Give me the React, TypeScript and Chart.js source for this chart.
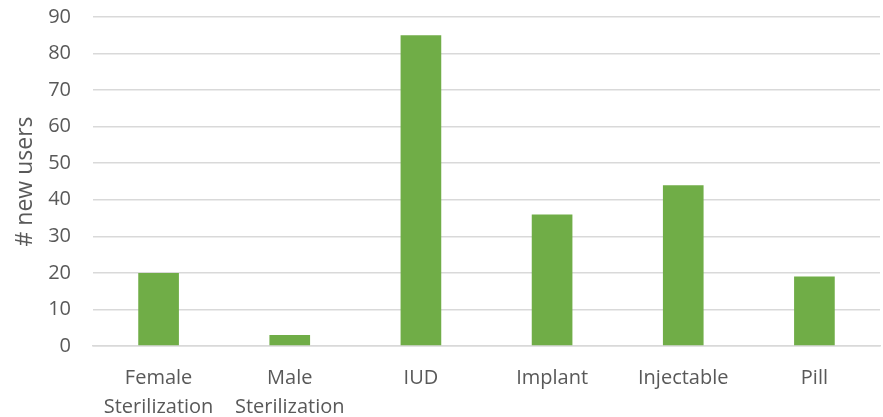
import React, { useEffect, useRef } from "react";
import { Chart, registerables } from "chart.js";

Chart.register(...registerables);

const categories: string[][] = [
  ["Female", "Sterilization"],
  ["Male", "Sterilization"],
  ["IUD"],
  ["Implant"],
  ["Injectable"],
  ["Pill"],
];
const newUsers: number[] = [20, 3, 85, 36, 44, 19];
const yTicks: number[] = [0, 10, 20, 30, 40, 50, 60, 70, 80, 90];
const yTitle = "# new users";

export default function App() {
  const ref = useRef<HTMLCanvasElement | null>(null);
  useEffect(() => {
    if (!ref.current) return;
    const font = "'Open Sans', sans-serif";
    const chart = new Chart(ref.current, {
      type: "bar",
      data: {
        labels: categories,
        datasets: [
          {
            data: newUsers,
            backgroundColor: "#70AD47",
            borderWidth: 0,
            categoryPercentage: 1,
            barPercentage: 0.31,
          },
        ],
      },
      options: {
        animation: false,
        responsive: false,
        maintainAspectRatio: false,
        layout: { autoPadding: false, padding: { left: 9, right: 3, top: 17, bottom: -23 } },
        plugins: { legend: { display: false }, tooltip: { enabled: false } },
        scales: {
          x: {
            afterFit: (s: any) => {
              s.paddingLeft = 0;
              s.paddingRight = 0;
              s.paddingTop = 0;
              s.paddingBottom = 0;
            },
            grid: { display: false, drawTicks: false },
            border: { display: true, color: "#D9D9D9", width: 1.5 },
            ticks: {
              color: "#595959",
              font: { family: font, size: 20, lineHeight: 1.45 },
              padding: 18,
              maxRotation: 0,
              autoSkip: false,
            },
          },
          y: {
            min: 0,
            max: 90,
            afterBuildTicks: (axis: any) => {
              axis.ticks = yTicks.map((v) => ({ value: v }));
            },
            afterFit: (s: any) => {
              s.paddingLeft = 0;
              s.paddingRight = 0;
              s.paddingTop = 0;
              s.paddingBottom = 0;
              s.width = 84;
            },
            grid: { color: "#D9D9D9", lineWidth: 1.5, drawTicks: false },
            border: { display: false },
            ticks: {
              color: "#595959",
              font: { family: font, size: 20 },
              padding: 22,
            },
            title: {
              display: true,
              text: yTitle,
              color: "#595959",
              font: { family: font, size: 23 },
              padding: { top: 3, bottom: 0 },
            },
          },
        },
      },
    });
    return () => chart.destroy();
  }, []);
  return (
    <div style={{ position: "fixed", left: 0, top: 0, width: 883, height: 417, background: "#fff" }}>
      <canvas ref={ref} width={883} height={417} style={{ width: 883, height: 417 }} />
    </div>
  );
}
